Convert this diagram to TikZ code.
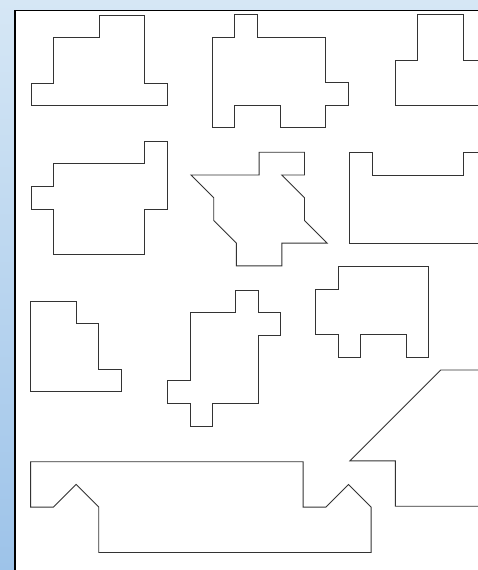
\documentclass[tikz,border=0pt]{standalone}
\definecolor{skytop}{HTML}{D6E7F5}
\definecolor{skybot}{HTML}{9DC3E9}
\begin{document}
\begin{tikzpicture}[x=22.7pt,y=-22.7pt,
  piece/.style={draw=black!80,line width=0.9pt,line join=miter}]
\useasboundingbox (0,0) rectangle (21.057,25.11);
\clip (0,0) rectangle (21.057,25.11);
% background and sheet
\shade[top color=skytop,bottom color=skybot] (0,0) rectangle (21.057,25.11);
\fill[white] (0.67,0.47) rectangle (22,26);
\draw[line width=1.6pt] (0.67,26) -- (0.67,0.47) -- (22,0.47);
% first row
\draw[piece,shift={(1.366,0.661)}] (0,3) -- (1,3) -- (1,1) -- (3,1) -- (3,0) -- (5,0) -- (5,3) -- (6,3) -- (6,4) -- (0,4) -- cycle;
\draw[piece,shift={(9.35,0.63)}] (1,0) -- (2,0) -- (2,1) -- (5,1) -- (5,3) -- (6,3) -- (6,4) -- (5,4) -- (5,5) -- (3,5) -- (3,4) -- (1,4) -- (1,5) -- (0,5) -- (0,1) -- (1,1) -- cycle;
\draw[piece,shift={(17.40,0.648)}] (0,2) -- (1,2) -- (1,0) -- (3,0) -- (3,2) -- (5,2) -- (5,4) -- (0,4) -- cycle;
% second row
\draw[piece,shift={(1.366,6.211)}] (1,1) -- (5,1) -- (5,0) -- (6,0) -- (6,3) -- (5,3) -- (5,5) -- (1,5) -- (1,3) -- (0,3) -- (0,2) -- (1,2) -- cycle;
\draw[piece,shift={(8.414,6.709)}] (0,1) -- (3,1) -- (3,0) -- (5,0) -- (5,1) -- (4,1) -- (5,2) -- (5,3) -- (6,4) -- (4,4) -- (4,5) -- (2,5) -- (2,4) -- (1,3) -- (1,2) -- cycle;
\draw[piece,shift={(15.405,6.709)}] (0,0) -- (1,0) -- (1,1) -- (5,1) -- (5,0) -- (6,0) -- (6,4) -- (0,4) -- cycle;
% third row
\draw[piece,shift={(1.352,13.26)}] (0,0) -- (2,0) -- (2,1) -- (3,1) -- (3,3) -- (4,3) -- (4,4) -- (0,4) -- cycle;
\draw[piece,shift={(7.370,12.775)}] (3,0) -- (4,0) -- (4,1) -- (5,1) -- (5,2) -- (4,2) -- (4,5) -- (2,5) -- (2,6) -- (1,6) -- (1,5) -- (0,5) -- (0,4) -- (1,4) -- (1,1) -- (3,1) -- cycle;
\draw[piece,shift={(13.89,11.749)}] (1,0) -- (5,0) -- (5,4) -- (4,4) -- (4,3) -- (2,3) -- (2,4) -- (1,4) -- (1,3) -- (0,3) -- (0,1) -- (1,1) -- cycle;
% bottom
\draw[piece,shift={(15.419,16.30)}] (4,0) -- (7,0) -- (7,6) -- (2,6) -- (2,4) -- (0,4) -- cycle;
\draw[piece,shift={(1.352,20.339)}] (0,0) -- (12,0) -- (12,2) -- (13,2) -- (14,1) -- (15,2) -- (15,4) -- (3,4) -- (3,2) -- (2,1) -- (1,2) -- (0,2) -- cycle;
\end{tikzpicture}
\end{document}
